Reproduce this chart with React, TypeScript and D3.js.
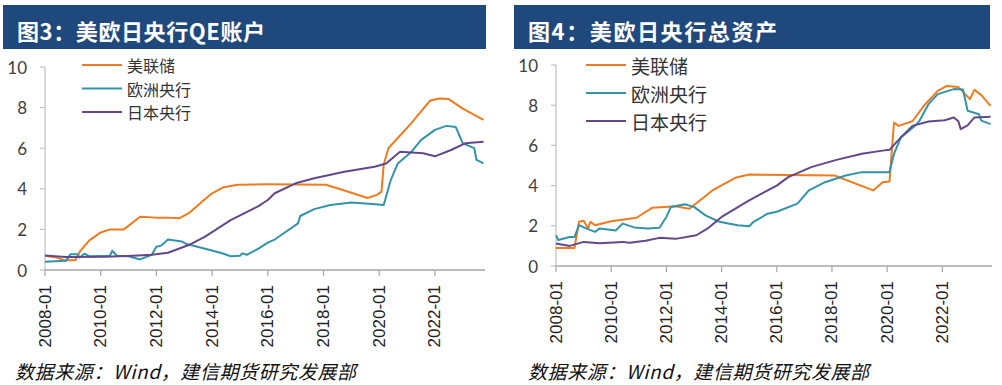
import React from "react";
import * as d3 from "d3";

// 图例 / 颜色
const seriesNames = ["美联储", "欧洲央行", "日本央行"];
const seriesColors = ["#ee7b1f", "#3293a9", "#62488a"];

const yTicks = [0, 2, 4, 6, 8, 10];
const xTickLabels = ["2008-01", "2010-01", "2012-01", "2014-01", "2016-01", "2018-01", "2020-01", "2022-01"];

const titles = ["图3：美欧日央行QE账户", "图4：美欧日央行总资产"];
const sourceNote = "数据来源：Wind，建信期货研究发展部";

// 图3 QE账户（万亿美元）
const qeFed: [string, number][] = [
  ["2008-01", 0.7], ["2008-06", 0.62], ["2008-09", 0.48], ["2009-02", 0.48], ["2009-04", 0.9],
  ["2009-08", 1.45], ["2010-01", 1.85], ["2010-05", 2.0], ["2010-11", 2.0], ["2011-03", 2.35],
  ["2011-06", 2.62], ["2012-01", 2.58], ["2012-06", 2.58], ["2012-11", 2.55], ["2013-03", 2.8],
  ["2013-09", 3.4], ["2014-01", 3.78], ["2014-06", 4.08], ["2014-12", 4.2], ["2016-01", 4.22],
  ["2018-02", 4.2], ["2018-09", 3.95], ["2019-08", 3.55], ["2019-12", 3.7], ["2020-02", 3.86],
  ["2020-03", 5.2], ["2020-05", 6.0], ["2020-09", 6.5], ["2021-03", 7.25], ["2021-07", 7.8],
  ["2021-11", 8.35], ["2022-03", 8.45], ["2022-07", 8.42], ["2023-01", 7.95], ["2023-10", 7.39],
];
const qeEcb: [string, number][] = [
  ["2008-01", 0.41], ["2008-10", 0.45], ["2008-12", 0.78], ["2009-03", 0.78], ["2009-04", 0.62],
  ["2009-06", 0.8], ["2009-08", 0.68], ["2010-05", 0.7], ["2010-06", 0.95], ["2010-08", 0.7],
  ["2011-01", 0.68], ["2011-06", 0.52], ["2011-11", 0.75], ["2012-01", 1.15], ["2012-03", 1.2],
  ["2012-06", 1.5], ["2012-12", 1.4], ["2013-02", 1.28], ["2013-10", 1.05], ["2014-05", 0.84],
  ["2014-09", 0.68], ["2015-01", 0.7], ["2015-02", 0.82], ["2015-04", 0.75], ["2015-09", 1.05],
  ["2016-01", 1.35], ["2016-04", 1.5], ["2017-02", 2.3], ["2017-03", 2.66], ["2017-09", 3.0],
  ["2018-04", 3.2], ["2019-01", 3.33], ["2019-10", 3.25], ["2020-03", 3.2], ["2020-06", 4.43],
  ["2020-09", 5.25], ["2021-03", 5.83], ["2021-07", 6.4], ["2022-01", 6.9], ["2022-06", 7.1],
  ["2022-10", 7.05], ["2023-01", 6.24], ["2023-06", 6.0], ["2023-07", 5.42], ["2023-10", 5.25],
];
const qeBoj: [string, number][] = [
  ["2008-01", 0.71], ["2008-10", 0.64], ["2010-03", 0.65], ["2011-03", 0.7], ["2011-11", 0.75],
  ["2012-06", 0.85], ["2013-03", 1.23], ["2013-10", 1.64], ["2014-09", 2.46], ["2015-09", 3.15],
  ["2016-01", 3.45], ["2016-04", 3.78], ["2017-01", 4.27], ["2017-09", 4.52], ["2018-10", 4.84],
  ["2019-11", 5.09], ["2020-04", 5.25], ["2020-10", 5.83], ["2021-08", 5.75], ["2022-01", 5.6],
  ["2022-08", 5.91], ["2023-02", 6.24], ["2023-10", 6.32],
];

// 图4 总资产（万亿美元）
const assetFed: [string, number][] = [
  ["2008-01", 0.9], ["2008-09", 0.9], ["2008-11", 2.2], ["2009-01", 2.25], ["2009-03", 1.87],
  ["2009-04", 2.2], ["2009-06", 2.03], ["2010-01", 2.23], ["2010-12", 2.4], ["2011-07", 2.9],
  ["2012-05", 2.97], ["2012-11", 2.85], ["2013-09", 3.76], ["2014-07", 4.39], ["2015-01", 4.55],
  ["2018-02", 4.5], ["2019-07", 3.76], ["2019-11", 4.17], ["2020-02", 4.2], ["2020-04", 7.14],
  ["2020-06", 6.97], ["2020-12", 7.2], ["2021-05", 7.97], ["2021-11", 8.71], ["2022-03", 8.96],
  ["2022-08", 8.9], ["2023-01", 8.3], ["2023-03", 8.76], ["2023-06", 8.5], ["2023-10", 7.97],
];
const assetEcb: [string, number][] = [
  ["2008-01", 1.53], ["2008-02", 1.29], ["2008-07", 1.44], ["2008-09", 1.44], ["2008-11", 2.03],
  ["2009-02", 1.87], ["2009-06", 1.7], ["2009-08", 1.87], ["2010-03", 1.77], ["2010-06", 2.11],
  ["2010-11", 1.92], ["2011-05", 1.87], ["2011-10", 1.9], ["2012-01", 2.44], ["2012-03", 2.94],
  ["2012-09", 3.07], ["2013-01", 2.94], ["2013-06", 2.52], ["2013-12", 2.2], ["2014-08", 2.03],
  ["2015-01", 1.98], ["2015-03", 2.2], ["2015-09", 2.6], ["2016-01", 2.7], ["2016-10", 3.1],
  ["2017-03", 3.76], ["2017-10", 4.17], ["2018-07", 4.5], ["2019-02", 4.67], ["2020-02", 4.67],
  ["2020-04", 5.58], ["2020-07", 6.4], ["2021-01", 6.97], ["2021-03", 7.2], ["2021-07", 8.05],
  ["2021-11", 8.55], ["2022-06", 8.8], ["2022-10", 8.78], ["2022-12", 7.72], ["2023-05", 7.55],
  ["2023-06", 7.23], ["2023-10", 7.06],
];
const assetBoj: [string, number][] = [
  ["2008-01", 1.12], ["2008-07", 1.0], ["2008-10", 1.1], ["2009-01", 1.2], ["2009-08", 1.13],
  ["2010-06", 1.2], ["2010-09", 1.16], ["2011-04", 1.26], ["2011-10", 1.4], ["2012-05", 1.35],
  ["2013-02", 1.53], ["2013-07", 1.87], ["2014-01", 2.44], ["2015-01", 3.27], ["2016-01", 4.0],
  ["2016-06", 4.42], ["2017-04", 4.92], ["2018-03", 5.28], ["2019-02", 5.58], ["2019-11", 5.74],
  ["2020-02", 5.78], ["2020-07", 6.4], ["2020-12", 6.97], ["2021-07", 7.19], ["2022-02", 7.25],
  ["2022-06", 7.39], ["2022-08", 7.2], ["2022-09", 6.81], ["2022-12", 7.0], ["2023-03", 7.39],
  ["2023-10", 7.42],
];

const parse = d3.timeParse("%Y-%m");
const xStart = new Date(2008, 0, 1);
const xEnd = new Date(2023, 9, 20);

const panels = [
  {
    title: titles[0],
    series: [qeFed, qeEcb, qeBoj],
    bar: [3, 486],
    x: [45, 485],
    y: [270, 67],
    legend: { x: 82, y: 65, step: 23.5, size: 16 },
    titleSpacing: 0.6,
    note: 15,
  },
  {
    title: titles[1],
    series: [assetFed, assetEcb, assetBoj],
    bar: [514, 990],
    x: [556, 992],
    y: [266, 65],
    legend: { x: 586, y: 65, step: 28, size: 19 },
    titleSpacing: 1.6,
    note: 528,
  },
];

const Panel = ({ p }: { p: typeof panels[number] }) => {
  const x = d3.scaleTime().domain([xStart, xEnd]).range(p.x);
  const y = d3.scaleLinear().domain([0, 10]).range(p.y);
  const line = d3.line<[string, number]>()
    .x(d => x(parse(d[0]) as Date))
    .y(d => y(d[1]));

  return (
    <g>
      <rect x={p.bar[0]} y={5} width={p.bar[1] - p.bar[0]} height={44} fill="#1f497d" />
      <text x={p.bar[0] + 14} y={29.5} fill="#fff" fontSize={22} fontWeight={700}
        fontFamily="'Noto Sans CJK SC', sans-serif" dominantBaseline="central" letterSpacing={p.titleSpacing}>
        {p.title}
      </text>

      {/* y axis */}
      <line x1={p.x[0]} x2={p.x[0]} y1={y(0)} y2={y(10)} stroke="#c0c0c0" strokeWidth={1.2} />
      {yTicks.map(t => (
        <g key={t}>
          <line x1={p.x[0] - 5} x2={p.x[0]} y1={y(t)} y2={y(t)} stroke="#c0c0c0" strokeWidth={1.2} />
          <text x={p.x[0] - 18} y={y(t)} textAnchor="end" dominantBaseline="central"
            fontSize={17} fontFamily="Lato, sans-serif" fill="#404040">{t}</text>
        </g>
      ))}

      {/* x axis */}
      <line x1={p.x[0]} x2={p.x[1]} y1={y(0)} y2={y(0)} stroke="#a6a6a6" strokeWidth={1.5} />
      {xTickLabels.map(t => {
        const tx = x(parse(t) as Date);
        return (
          <g key={t}>
            <line x1={tx} x2={tx} y1={y(0)} y2={y(0) + 6} stroke="#a6a6a6" strokeWidth={1.2} />
            <text transform={`translate(${tx},${y(0) + 15}) rotate(-90)`} textAnchor="end"
              dominantBaseline="central" fontSize={17} fontFamily="'Liberation Sans', Arial, sans-serif"
              fill="#222">{t}</text>
          </g>
        );
      })}

      {p.series.map((s, i) => (
        <path key={i} d={line(s) || ""} fill="none" stroke={seriesColors[i]} strokeWidth={2}
          strokeLinejoin="round" />
      ))}

      {seriesNames.map((n, i) => (
        <g key={n}>
          <line x1={p.legend.x} x2={p.legend.x + 40} y1={p.legend.y + i * p.legend.step}
            y2={p.legend.y + i * p.legend.step} stroke={seriesColors[i]} strokeWidth={2} />
          <text x={p.legend.x + 45} y={p.legend.y + i * p.legend.step} dominantBaseline="central"
            fontSize={p.legend.size} fontFamily="'Noto Sans CJK SC', sans-serif" fill="#333">{n}</text>
        </g>
      ))}

      <text x={p.note} y={370} dominantBaseline="central" fontSize={19} fontStyle="italic"
        letterSpacing={0.6} fontFamily="'Noto Sans CJK SC', sans-serif" fill="#111">{sourceNote}</text>
    </g>
  );
};

export default function App() {
  return (
    <svg width={1002} height={385} style={{ position: "absolute", left: 0, top: 0, background: "#fff" }}>
      <rect width={1002} height={385} fill="#fff" />
      {panels.map((p, i) => <Panel key={i} p={p} />)}
    </svg>
  );
}
